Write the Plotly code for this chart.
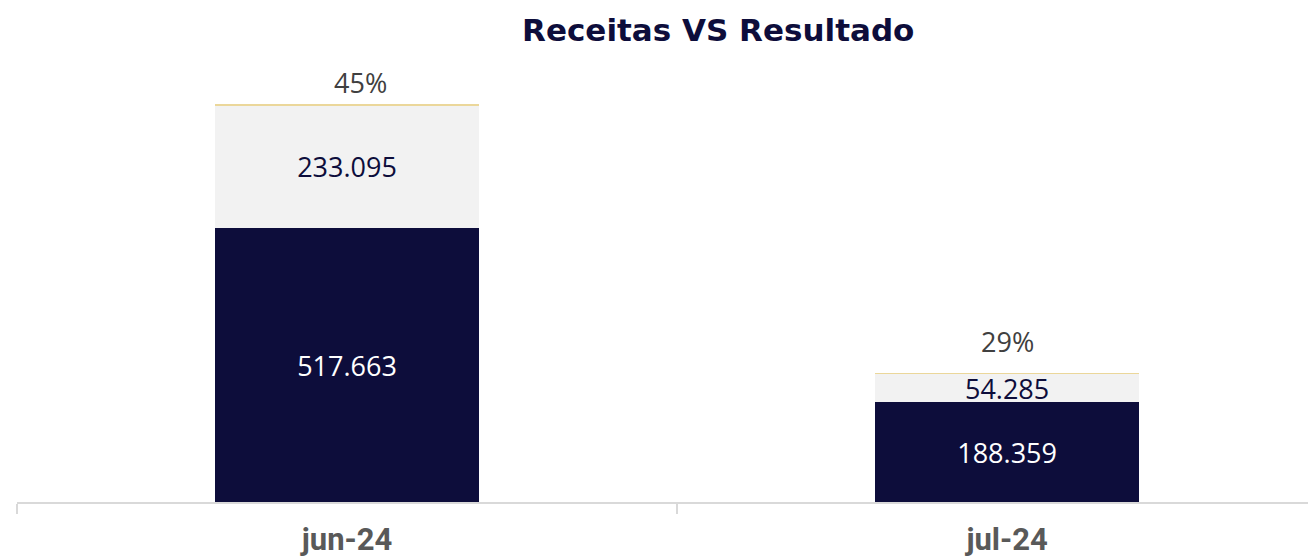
import plotly.graph_objects as go

categories = ["jun-24", "jul-24"]
resultado = [517663, 188359]
despesas = [233095, 54285]
margem_pct = [45, 29]

NAVY = "#0D0D3B"
LIGHT = "#F2F2F2"
GOLD = "#EBD79A"

# label offsets (pixels) matching the reference label placement
label_xshift = [13, 0]
label_yshift = [2, 12]

totals = [a + b for a, b in zip(resultado, despesas)]

fig = go.Figure()
fig.add_bar(
    x=categories, y=resultado, name="Resultado",
    marker=dict(color=NAVY, line=dict(width=0)),
    texttemplate="%{y:,.0f}", textposition="inside", insidetextanchor="middle",
    constraintext="none",
    textfont=dict(family="Open Sans", size=27, color="#FFFFFF"),
)
fig.add_bar(
    x=categories, y=despesas, name="Receitas",
    marker=dict(color=LIGHT, line=dict(width=0)),
    texttemplate="%{y:,.0f}", textposition="inside", insidetextanchor="middle",
    constraintext="none",
    textfont=dict(family="Open Sans", size=27, color=NAVY),
)
fig.add_bar(
    x=categories, y=[0, 0], name="Margem",
    marker=dict(color=GOLD, line=dict(color=GOLD, width=1.5)),
    hoverinfo="skip",
)

for c, t, p, xs, ys in zip(categories, totals, margem_pct, label_xshift, label_yshift):
    fig.add_annotation(
        x=c, y=t, text=f"{p}%", showarrow=False, yanchor="bottom",
        xshift=xs, yshift=ys,
        font=dict(family="Open Sans", size=27, color="#404040"),
    )

fig.update_layout(
    barmode="stack",
    bargap=0.6,
    width=1308, height=552,
    margin=dict(l=9, r=0, t=52, b=58),
    paper_bgcolor="white", plot_bgcolor="white",
    separators=",.",
    showlegend=False,
    title=dict(
        text="<b>Receitas VS Resultado</b>", x=0.543, xanchor="center", y=0.96, yanchor="middle",
        font=dict(family="DejaVu Sans", size=31, color=NAVY),
    ),
)
fig.update_xaxes(
    range=[-0.5, 1.468], tickson="boundaries", ticks="outside", ticklen=10,
    tickcolor="#D9D9D9", tickwidth=1.5,
    showline=True, linecolor="#D9D9D9", linewidth=1.5,
    tickfont=dict(family="Roboto", size=31, color="#595959", weight="bold"),
    ticklabelstandoff=9, automargin=False,
    showgrid=False,
)
fig.update_yaxes(range=[0, 835900], visible=False, showgrid=False, zeroline=False,
                 automargin=False)

fig.write_html("out.html")
